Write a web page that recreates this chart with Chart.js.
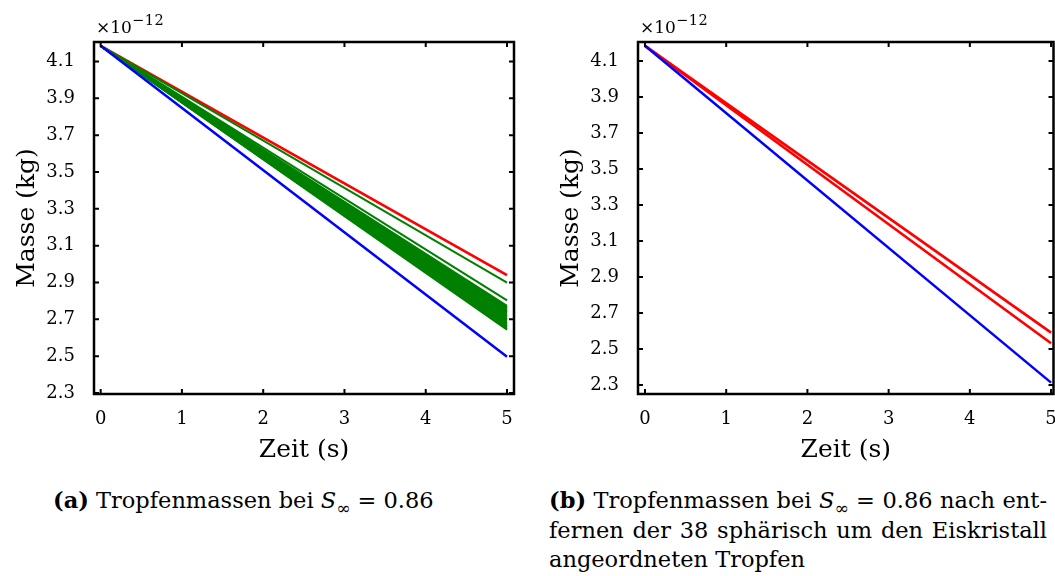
<!DOCTYPE html>
<html lang="de">
<head>
<meta charset="UTF-8">
<title>Tropfenmassen</title>
<script src="https://cdn.jsdelivr.net/npm/chart.js"></script>
<style>
  body {
    margin: 0;
    width: 1055px;
    height: 576px;
    overflow: hidden;
    background: #fff;
    color: #000;
    font-family: 'DejaVu Serif', serif;
    position: relative;
  }
  .panel { position: absolute; top: 0; width: 530px; height: 480px; }
  #pa { left: 0; }
  #pb { left: 544px; }
  .exp { position: absolute; top: 17px; font-size: 17px; line-height: 20px; white-space: nowrap; }
  .exp sup { font-size: 14.5px; line-height: 0; vertical-align: 8px; letter-spacing: 0.6px; }
  .cap { position: absolute; top: 486px; font-size: 22.5px; line-height: 29.5px; white-space: nowrap; }
  .cap sub { font-size: 17px; line-height: 0; }
  .j { text-align: justify; text-align-last: justify; }
</style>
</head>
<body>
  <div class="panel" id="pa"><canvas id="chart-a"></canvas></div>
  <div class="panel" id="pb"><canvas id="chart-b"></canvas></div>

  <div class="exp" style="left:96px">&times;10<sup>&minus;12</sup></div>
  <div class="exp" style="left:640px">&times;10<sup>&minus;12</sup></div>

  <div class="cap" style="left:53px"><b>(a)</b> Tropfenmassen bei <i>S</i><sub>&infin;</sub> = 0.86</div>
  <div class="cap" style="left:549px; width:498px">
    <div class="j"><b>(b)</b> Tropfenmassen bei <i>S</i><sub>&infin;</sub> = 0.86 nach ent-</div>
    <div class="j">fernen der 38 sphärisch um den Eiskristall</div>
    <div>angeordneten Tropfen</div>
  </div>

<script>
  // Zeitpunkte (s) und Massen (x 1e-12 kg)
  const timeS = [0, 5];
  const xTicks = [0, 1, 2, 3, 4, 5];
  const yTicks = [2.3, 2.5, 2.7, 2.9, 3.1, 3.3, 3.5, 3.7, 3.9, 4.1];

  // (a) alle Tropfen
  const aBlue = [4.185, 2.497];
  const aRed = [4.185, 2.94];
  const aGreen = [
    [4.185, 2.899], [4.185, 2.803],
    [4.185, 2.773], [4.185, 2.767], [4.185, 2.76], [4.185, 2.752], [4.185, 2.746],
    [4.185, 2.739], [4.185, 2.731], [4.185, 2.725], [4.185, 2.717], [4.185, 2.71],
    [4.185, 2.702], [4.185, 2.695], [4.185, 2.687], [4.185, 2.679], [4.185, 2.671],
    [4.185, 2.664], [4.185, 2.656], [4.185, 2.649], [4.185, 2.644]
  ];

  // (b) ohne die 38 sphaerisch angeordneten Tropfen
  const bBlue = [4.185, 2.313];
  const bRed1 = [4.185, 2.591];
  const bRed2 = [4.185, 2.532];

  const FONT = "'DejaVu Serif', serif";

  function pts(vals) {
    return timeS.map((t, i) => ({ x: t, y: vals[i] }));
  }

  function line(vals, color, width) {
    return {
      data: pts(vals),
      borderColor: color,
      borderWidth: width,
      pointRadius: 0,
      fill: false,
      tension: 0
    };
  }

  // Rahmen + nach innen zeigende Ticks
  const frame = {
    id: 'frame',
    afterDatasetsDraw(chart) {
      const { ctx, chartArea: a, scales: { x, y } } = chart;
      ctx.save();
      ctx.strokeStyle = '#000';
      ctx.lineWidth = 2.5;
      ctx.strokeRect(a.left, a.top, a.right - a.left, a.bottom - a.top);
      ctx.lineWidth = 2;
      ctx.beginPath();
      x.ticks.forEach(t => {
        const px = x.getPixelForValue(t.value);
        ctx.moveTo(px, a.bottom); ctx.lineTo(px, a.bottom - 5);
        ctx.moveTo(px, a.top); ctx.lineTo(px, a.top + 5);
      });
      y.ticks.forEach(t => {
        const py = y.getPixelForValue(t.value);
        ctx.moveTo(a.left, py); ctx.lineTo(a.left + 5, py);
        ctx.moveTo(a.right, py); ctx.lineTo(a.right - 5, py);
      });
      ctx.stroke();
      ctx.restore();
    }
  };

  function makeChart(id, datasets, xMin, xMax, yMin, yMax, padRight) {
    return new Chart(document.getElementById(id), {
      type: 'line',
      data: { datasets },
      options: {
        responsive: true,
        maintainAspectRatio: false,
        animation: false,
        layout: { padding: { top: 42, right: padRight, left: 0, bottom: 0 } },
        plugins: { legend: { display: false }, tooltip: { enabled: false } },
        scales: {
          x: {
            type: 'linear',
            min: xMin,
            max: xMax,
            grid: { display: false },
            border: { display: false },
            afterBuildTicks: s => { s.ticks = xTicks.map(v => ({ value: v })); },
            afterFit: s => { s.height = 86; },
            ticks: { color: '#000', font: { family: FONT, size: 18 }, padding: 7, callback: v => String(v) },
            title: { display: true, text: 'Zeit (s)', color: '#000', font: { family: FONT, size: 25 }, padding: { top: 0, bottom: 15 } }
          },
          y: {
            type: 'linear',
            min: yMin,
            max: yMax,
            grid: { display: false },
            border: { display: false },
            afterBuildTicks: s => { s.ticks = yTicks.map(v => ({ value: v })); },
            afterFit: s => { s.width = 94; },
            ticks: { color: '#000', font: { family: FONT, size: 18 }, padding: 11, callback: v => v.toFixed(1) },
            title: { display: true, text: 'Masse (kg)', color: '#000', font: { family: FONT, size: 25 }, padding: { top: 12, bottom: 0 } }
          }
        }
      },
      plugins: [frame]
    });
  }

  const setA = [line(aBlue, '#0000ff', 2.5)]
    .concat(aGreen.map(g => line(g, '#008000', 2)))
    .concat([line(aRed, '#ff0000', 2.7)]);

  makeChart('chart-a', setA, -0.082, 5.086, 2.2946, 4.206, 16);

  const setB = [
    line(bBlue, '#0000ff', 2.5),
    line(bRed1, '#ff0000', 2.7),
    line(bRed2, '#ff0000', 2.7)
  ];

  makeChart('chart-b', setB, -0.086, 5.03, 2.25, 4.206, 20.5);
</script>
</body>
</html>
